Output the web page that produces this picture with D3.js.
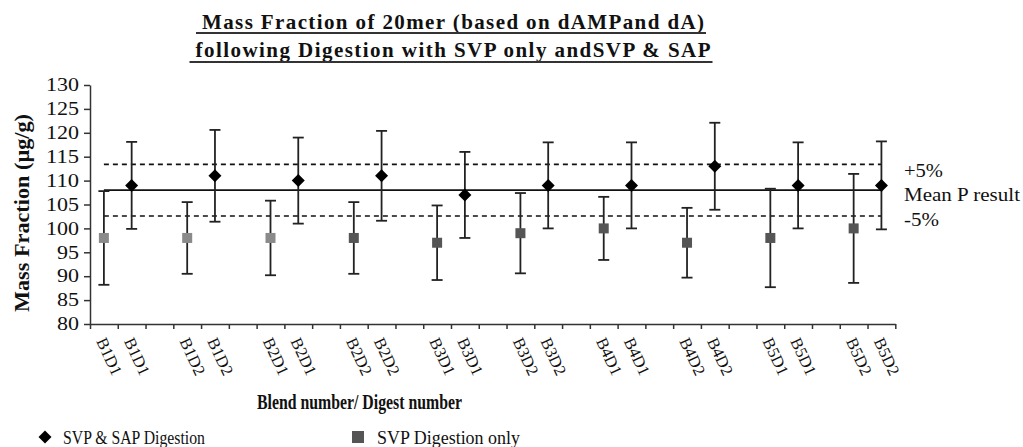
<!DOCTYPE html>
<html><head><meta charset="utf-8">
<script src="https://cdn.jsdelivr.net/npm/d3@7"></script>
<style>
body{margin:0;background:#fff}
svg{display:block}
svg text{font-family:"Liberation Serif","Times New Roman",serif !important;fill:#111}
</style>
</head><body><svg id="c" width="1023" height="447" font-family="Liberation Serif, Times New Roman, serif"></svg>
<script>
// ---- data ----
const samples = ["B1D1","B1D2","B2D1","B2D2","B3D1","B3D2","B4D1","B4D2","B5D1","B5D2"];
const svpOnly = [98,98,98,98,97,99,100,97,98,100];
const svpOnlyErr = [9.8,7.5,7.8,7.5,7.8,8.4,6.6,7.3,10.3,11.4];
const svpSap = [109,111,110,111,107,109,109,113,109,109];
const svpSapErr = [9.1,9.6,9,9.4,9,9,9,9.1,9,9.2];
const meanP = 108;
const bandPct = 5;
const yTicks = [80,85,90,95,100,105,110,115,120,125,130];
const titleLines = ["Mass Fraction of 20mer (based on dAMPand dA)","following Digestion with SVP only andSVP & SAP"];
const yTitle = "Mass Fraction (\u00b5g/g)";
const xTitle = "Blend number/ Digest number";
const legendLabels = ["SVP & SAP Digestion","SVP Digestion only"];
const refLabels = ["+5%","Mean P result","-5%"];

// categories: square, diamond, gap per sample (no trailing gap)
const categories = [];
samples.forEach((s,i)=>{ categories.push(s, s); if(i<samples.length-1) categories.push(""); });

const svg = d3.select("#c");
const x = d3.scaleBand().domain(d3.range(categories.length)).range([90,895.3]).padding(0);
const xb = d3.scaleLinear().domain([0,categories.length]).range([90,895.3]);
const y = d3.scaleLinear().domain([80,130]).range([324,85]);
const cx = i => x(i) + x.bandwidth()/2;

// ---- title ----
const tl = [{t:titleLines[0],yb:29,len:502,u:33},{t:titleLines[1],yb:57,len:515,u:62}];
tl.forEach(d=>{
  svg.append("text").attr("x",453).attr("y",d.yb).attr("text-anchor","middle")
    .attr("font-size",21).attr("font-weight","bold")
    .attr("textLength",d.len).attr("lengthAdjust","spacing").text(d.t);
  svg.append("line").attr("x1",453-d.len/2-6).attr("x2",453+d.len/2+2)
    .attr("y1",d.u).attr("y2",d.u).attr("stroke","#333").attr("stroke-width",1.8);
});

// ---- y axis ----
const ya = svg.append("g").attr("transform","translate(90,0)")
  .call(d3.axisLeft(y).tickValues(yTicks).tickSize(6).tickSizeOuter(0).tickPadding(5));
ya.attr("font-family",null);
ya.select(".domain").attr("stroke","#333").attr("stroke-width",1.5);
ya.selectAll(".tick line").attr("stroke","#333").attr("stroke-width",1.5);
ya.selectAll(".tick text").attr("font-size",18).attr("fill","#111")
  .attr("textLength",d=>String(d).length*11).attr("lengthAdjust","spacingAndGlyphs");

// ---- x axis ----
const xa = svg.append("g").attr("transform","translate(0,324)")
  .call(d3.axisBottom(xb).tickValues(d3.range(categories.length+1)).tickSize(5).tickSizeOuter(0).tickFormat(""));
xa.select(".domain").attr("stroke","#333").attr("stroke-width",1.5);
xa.selectAll(".tick line").attr("stroke","#333").attr("stroke-width",1.5);

svg.append("g").selectAll("text").data(categories.map((c,i)=>({c,i})).filter(d=>d.c!==""))
  .join("text")
  .attr("transform",d=>`translate(${cx(d.i)-8},341) rotate(65)`)
  .attr("font-size",16.5).attr("text-anchor","start").text(d=>d.c);

// ---- reference lines ----
const x0 = cx(0), x1 = cx(categories.length-1);
svg.append("line").attr("x1",x0).attr("x2",x1).attr("y1",y(meanP)).attr("y2",y(meanP))
  .attr("stroke","#111").attr("stroke-width",1.6);
[1+bandPct/100, 1-bandPct/100].forEach(f=>{
  svg.append("line").attr("x1",x0).attr("x2",x1).attr("y1",y(meanP*f)).attr("y2",y(meanP*f))
    .attr("stroke","#111").attr("stroke-width",1.6).attr("stroke-dasharray","5,4");
});

// ---- error bars + markers ----
const sq = samples.map((s,i)=>({i:3*i,v:svpOnly[i],e:svpOnlyErr[i],k:i}));
const dm = samples.map((s,i)=>({i:3*i+1,v:svpSap[i],e:svpSapErr[i],k:i}));
const eg = svg.append("g").attr("stroke","#222").attr("stroke-width",1.8);
[...sq,...dm].forEach(d=>{
  const X = cx(d.i);
  eg.append("line").attr("x1",X).attr("x2",X).attr("y1",y(d.v-d.e)).attr("y2",y(d.v+d.e));
  eg.append("line").attr("x1",X-5.5).attr("x2",X+5.5).attr("y1",y(d.v-d.e)).attr("y2",y(d.v-d.e));
  eg.append("line").attr("x1",X-5.5).attr("x2",X+5.5).attr("y1",y(d.v+d.e)).attr("y2",y(d.v+d.e));
});
svg.append("g").selectAll("rect").data(sq).join("rect")
  .attr("x",d=>cx(d.i)-5).attr("y",d=>y(d.v)-5).attr("width",10).attr("height",10)
  .attr("fill",d=>d.k<3?"#8a8a8a":"#555");
svg.append("g").selectAll("path").data(dm).join("path")
  .attr("transform",d=>`translate(${cx(d.i)},${y(d.v)})`)
  .attr("d","M0,-6.5L6.5,0L0,6.5L-6.5,0Z").attr("fill","#000");

// ---- right labels ----
const rl = [{t:refLabels[0],yb:177,len:39},{t:refLabels[1],yb:200.5,len:116},{t:refLabels[2],yb:225.5,len:35}];
rl.forEach(d=>svg.append("text").attr("x",904).attr("y",d.yb).attr("font-size",19)
  .attr("textLength",d.len).attr("lengthAdjust","spacingAndGlyphs").text(d.t));

// ---- axis titles ----
svg.append("text").attr("transform","translate(29,213) rotate(-90)").attr("text-anchor","middle")
  .attr("font-size",21).attr("font-weight","bold")
  .attr("textLength",198).attr("lengthAdjust","spacingAndGlyphs").text(yTitle);
svg.append("text").attr("x",359.5).attr("y",409).attr("text-anchor","middle")
  .attr("font-size",20).attr("font-weight","bold")
  .attr("textLength",205).attr("lengthAdjust","spacingAndGlyphs").text(xTitle);

// ---- legend ----
svg.append("path").attr("transform","translate(45,437)").attr("d","M0,-6.5L6.5,0L0,6.5L-6.5,0Z").attr("fill","#000");
svg.append("text").attr("x",63).attr("y",444).attr("font-size",19)
  .attr("textLength",142).attr("lengthAdjust","spacingAndGlyphs").text(legendLabels[0]);
svg.append("rect").attr("x",352).attr("y",431).attr("width",12).attr("height",12).attr("fill","#555");
svg.append("text").attr("x",377).attr("y",444).attr("font-size",19)
  .attr("textLength",143).attr("lengthAdjust","spacingAndGlyphs").text(legendLabels[1]);
</script>
</body></html>
